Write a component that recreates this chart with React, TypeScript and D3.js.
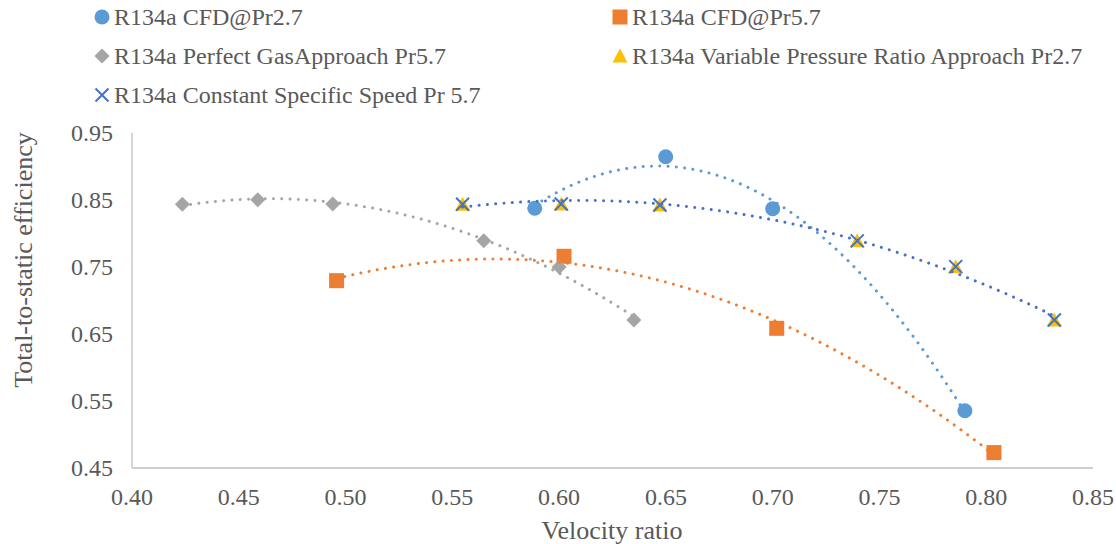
import React from "react";
import * as d3 from "d3";

const cfd27X = [0.5886, 0.6499, 0.7000, 0.7900];
const cfd27Y = [0.8376, 0.9146, 0.8370, 0.5355];

const cfd57X = [0.4958, 0.6023, 0.7019, 0.8036];
const cfd57Y = [0.7296, 0.7660, 0.6585, 0.4730];

const pgX = [0.4236, 0.4589, 0.4940, 0.5647, 0.6000, 0.6350];
const pgY = [0.8436, 0.8505, 0.8440, 0.7890, 0.7500, 0.6710];

const vprX = [0.5548, 0.6010, 0.6472, 0.7396, 0.7857, 0.8319];
const vprY = [0.8436, 0.8440, 0.8425, 0.7890, 0.7505, 0.6710];

const cssX = [0.5548, 0.6010, 0.6472, 0.7396, 0.7857, 0.8319];
const cssY = [0.8436, 0.8440, 0.8425, 0.7890, 0.7505, 0.6710];

const xTicks = [0.40, 0.45, 0.50, 0.55, 0.60, 0.65, 0.70, 0.75, 0.80, 0.85];
const yTicks = [0.45, 0.55, 0.65, 0.75, 0.85, 0.95];

const legendLabels = [
  "R134a CFD@Pr2.7",
  "R134a CFD@Pr5.7",
  "R134a Perfect GasApproach Pr5.7",
  "R134a Variable Pressure Ratio Approach Pr2.7",
  "R134a Constant Specific Speed Pr 5.7",
];

const C_LBLUE = "#5B9BD5";
const C_ORANGE = "#ED7D31";
const C_GRAY = "#A5A5A5";
const C_YELLOW = "#FFC000";
const C_DBLUE = "#4472C4";
const TXT = "#595959";
const FONT = "'Liberation Serif', 'Times New Roman', serif";

// least squares polynomial fit of order 2
function polyFit2(xs: number[], ys: number[]) {
  const n = 3;
  const A: number[][] = [];
  for (let i = 0; i < n; i++) {
    A.push(new Array(n + 1).fill(0));
  }
  for (let k = 0; k < xs.length; k++) {
    for (let i = 0; i < n; i++) {
      for (let j = 0; j < n; j++) A[i][j] += Math.pow(xs[k], i + j);
      A[i][n] += ys[k] * Math.pow(xs[k], i);
    }
  }
  for (let i = 0; i < n; i++) {
    let p = i;
    for (let r = i + 1; r < n; r++) if (Math.abs(A[r][i]) > Math.abs(A[p][i])) p = r;
    [A[i], A[p]] = [A[p], A[i]];
    for (let r = 0; r < n; r++) {
      if (r === i) continue;
      const f = A[r][i] / A[i][i];
      for (let c = i; c <= n; c++) A[r][c] -= f * A[i][c];
    }
  }
  const coef = A.map((row, i) => row[n] / row[i]);
  return (x: number) => coef[0] + coef[1] * x + coef[2] * x * x;
}

function trendPoints(xs: number[], ys: number[]) {
  const f = polyFit2(xs, ys);
  const lo = d3.min(xs) as number;
  const hi = d3.max(xs) as number;
  const pts: [number, number][] = [];
  const N = 200;
  for (let i = 0; i <= N; i++) {
    const x = lo + ((hi - lo) * i) / N;
    pts.push([x, f(x)]);
  }
  return pts;
}

export default function App() {
  const W = 1116;
  const H = 544;
  const x = d3.scaleLinear().domain([0.4, 0.85]).range([132, 1093]);
  const y = d3.scaleLinear().domain([0.45, 0.95]).range([468, 133]);
  const line = d3
    .line<[number, number]>()
    .x((d) => x(d[0]))
    .y((d) => y(d[1]))
    .curve(d3.curveLinear);

  const trend = (xs: number[], ys: number[], color: string) => (
    <path
      d={line(trendPoints(xs, ys)) || ""}
      fill="none"
      stroke={color}
      strokeWidth={3}
      strokeDasharray="0.01 8.3"
      strokeLinecap="round"
    />
  );

  const circle = (cx: number, cy: number, key: any) => (
    <circle key={key} cx={cx} cy={cy} r={7.5} fill={C_LBLUE} />
  );
  const square = (cx: number, cy: number, key: any) => (
    <rect key={key} x={cx - 7.5} y={cy - 7.5} width={15} height={15} fill={C_ORANGE} />
  );
  const diamond = (cx: number, cy: number, key: any) => (
    <path key={key} d={`M${cx},${cy - 7.5}L${cx + 7.5},${cy}L${cx},${cy + 7.5}L${cx - 7.5},${cy}Z`} fill={C_GRAY} />
  );
  const triangle = (cx: number, cy: number, key: any) => (
    <path key={key} d={`M${cx},${cy - 7.5}L${cx + 7.5},${cy + 6.5}L${cx - 7.5},${cy + 6.5}Z`} fill={C_YELLOW} />
  );
  const cross = (cx: number, cy: number, key: any) => (
    <path
      key={key}
      d={`M${cx - 6.5},${cy - 6.5}L${cx + 6.5},${cy + 6.5}M${cx + 6.5},${cy - 6.5}L${cx - 6.5},${cy + 6.5}`}
      stroke={C_DBLUE}
      strokeWidth={2}
      fill="none"
    />
  );

  const legendItems = [
    { lx: 102, ly: 17, m: circle },
    { lx: 620, ly: 17, m: square },
    { lx: 102, ly: 56, m: diamond },
    { lx: 620, ly: 56, m: triangle },
    { lx: 102, ly: 95, m: cross },
  ];

  return (
    <svg
      width={W}
      height={H}
      style={{ position: "absolute", left: 0, top: 0, background: "#fff" }}
      fontFamily={FONT}
    >
      {/* axes */}
      <line x1={x(0.4)} x2={x(0.4)} y1={y(0.95)} y2={y(0.45)} stroke="#BFBFBF" strokeWidth={1.3} />
      <line x1={x(0.4)} x2={x(0.85)} y1={y(0.45)} y2={y(0.45)} stroke="#BFBFBF" strokeWidth={1.3} />

      {yTicks.map((t) => (
        <text key={"y" + t} x={113} y={y(t)} dy="0.35em" textAnchor="end" fontSize={24} fill={TXT}>
          {d3.format(".2f")(t)}
        </text>
      ))}
      {xTicks.map((t) => (
        <text key={"x" + t} x={x(t)} y={497} dy="0.35em" textAnchor="middle" fontSize={24} fill={TXT}>
          {d3.format(".2f")(t)}
        </text>
      ))}
      <text x={612} y={530} dy="0.35em" textAnchor="middle" fontSize={26} fill={TXT}>
        Velocity ratio
      </text>
      <text
        transform={`translate(23,${(133 + 387) / 2}) rotate(-90)`}
        dy="0.35em"
        textAnchor="middle"
        fontSize={26}
        fill={TXT}
      >
        Total-to-static efficiency
      </text>

      {/* series markers */}
      {cfd27X.map((v, i) => circle(x(v), y(cfd27Y[i]), "c" + i))}
      {cfd57X.map((v, i) => square(x(v), y(cfd57Y[i]), "s" + i))}
      {pgX.map((v, i) => diamond(x(v), y(pgY[i]), "d" + i))}
      {vprX.map((v, i) => triangle(x(v), y(vprY[i]), "t" + i))}
      {cssX.map((v, i) => cross(x(v), y(cssY[i]), "x" + i))}

      {/* trendlines */}
      {trend(cfd27X, cfd27Y, C_LBLUE)}
      {trend(cfd57X, cfd57Y, C_ORANGE)}
      {trend(pgX, pgY, C_GRAY)}
      {trend(cssX, cssY, C_DBLUE)}

      {/* legend */}
      {legendItems.map((it, i) => (
        <g key={"l" + i}>
          {it.m(it.lx, it.ly, "lm" + i)}
          <text x={it.lx + 12} y={it.ly} dy="0.35em" fontSize={24} fill={TXT}>
            {legendLabels[i]}
          </text>
        </g>
      ))}
    </svg>
  );
}
